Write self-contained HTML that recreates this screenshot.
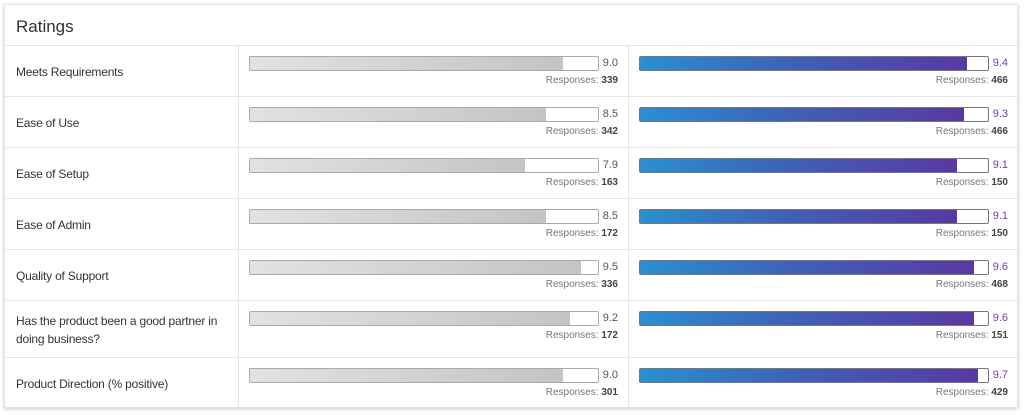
<!DOCTYPE html>
<html><head><style>
body{margin:0;background:#fff;font-family:"Liberation Sans",sans-serif;}
.card{position:absolute;left:4px;top:4px;width:1014px;height:404px;border:1px solid #e4e4e4;box-shadow:0 1px 4px rgba(0,0,0,.2);background:#fff;box-sizing:border-box;}
.title{position:absolute;left:11px;top:12px;font-size:17px;color:#333;}
.row{position:absolute;left:0;width:1012px;border-top:1px solid #e6e6e6;}
.lab{position:absolute;left:11px;font-size:12px;color:#333;line-height:18px;letter-spacing:-0.2px;}
.vl{position:absolute;top:0;bottom:0;width:1px;background:#e6e6e6;}
.bar{position:absolute;width:348px;height:13px;border:1px solid #aaa;border-radius:2px;background:#fff;overflow:hidden;}
.bar i{display:block;height:100%;}
.g i{background:linear-gradient(90deg,#e2e2e2,#c4c4c4);}
.b{border-color:#777;}
.b i{background:linear-gradient(90deg,#2a8fd1,#3e62b8 45%,#5a38a2);}
.v{position:absolute;font-size:11px;color:#555;width:30px;text-align:right;}
.vb{color:#6a3fb0;}
.r{position:absolute;font-size:10px;color:#777;width:200px;text-align:right;}
.r b{color:#444;font-weight:bold;}
</style></head><body>
<div class="card">
<div class="title">Ratings</div>
<div id="rows"></div>
</div>
<script>
var d=[["Meets Requirements",9.0,339,9.4,466],["Ease of Use",8.5,342,9.3,466],["Ease of Setup",7.9,163,9.1,150],["Ease of Admin",8.5,172,9.1,150],["Quality of Support",9.5,336,9.6,468],["Has the product been a good partner in<br>doing business?",9.2,172,9.6,151],["Product Direction (% positive)",9.0,301,9.7,429]];
var tops=[40,91,142,193,244,295,352,403],h="";
d.forEach(function(r,i){var t=tops[i],H=tops[i+1]-t;
h+='<div class="row" style="top:'+t+'px;height:'+H+'px">'+
'<div class="lab" style="top:'+(r[0].indexOf("<br>")>0?H/2-18:H/2-9)+'px">'+r[0]+'</div>'+
'<div class="vl" style="left:233px"></div><div class="vl" style="left:623px"></div>'+
'<div class="bar g" style="left:244px;top:10px"><i style="width:'+r[1]*10+'%"></i></div>'+
'<div class="v" style="left:583px;top:11px">'+r[1].toFixed(1)+'</div>'+
'<div class="r" style="left:413px;top:29px">Responses: <b>'+r[2]+'</b></div>'+
'<div class="bar b" style="left:634px;top:10px"><i style="width:'+r[3]*10+'%"></i></div>'+
'<div class="v vb" style="left:973px;top:11px">'+r[3].toFixed(1)+'</div>'+
'<div class="r" style="left:803px;top:29px">Responses: <b>'+r[4]+'</b></div></div>';});
document.getElementById("rows").innerHTML=h;
</script>
</body></html>
